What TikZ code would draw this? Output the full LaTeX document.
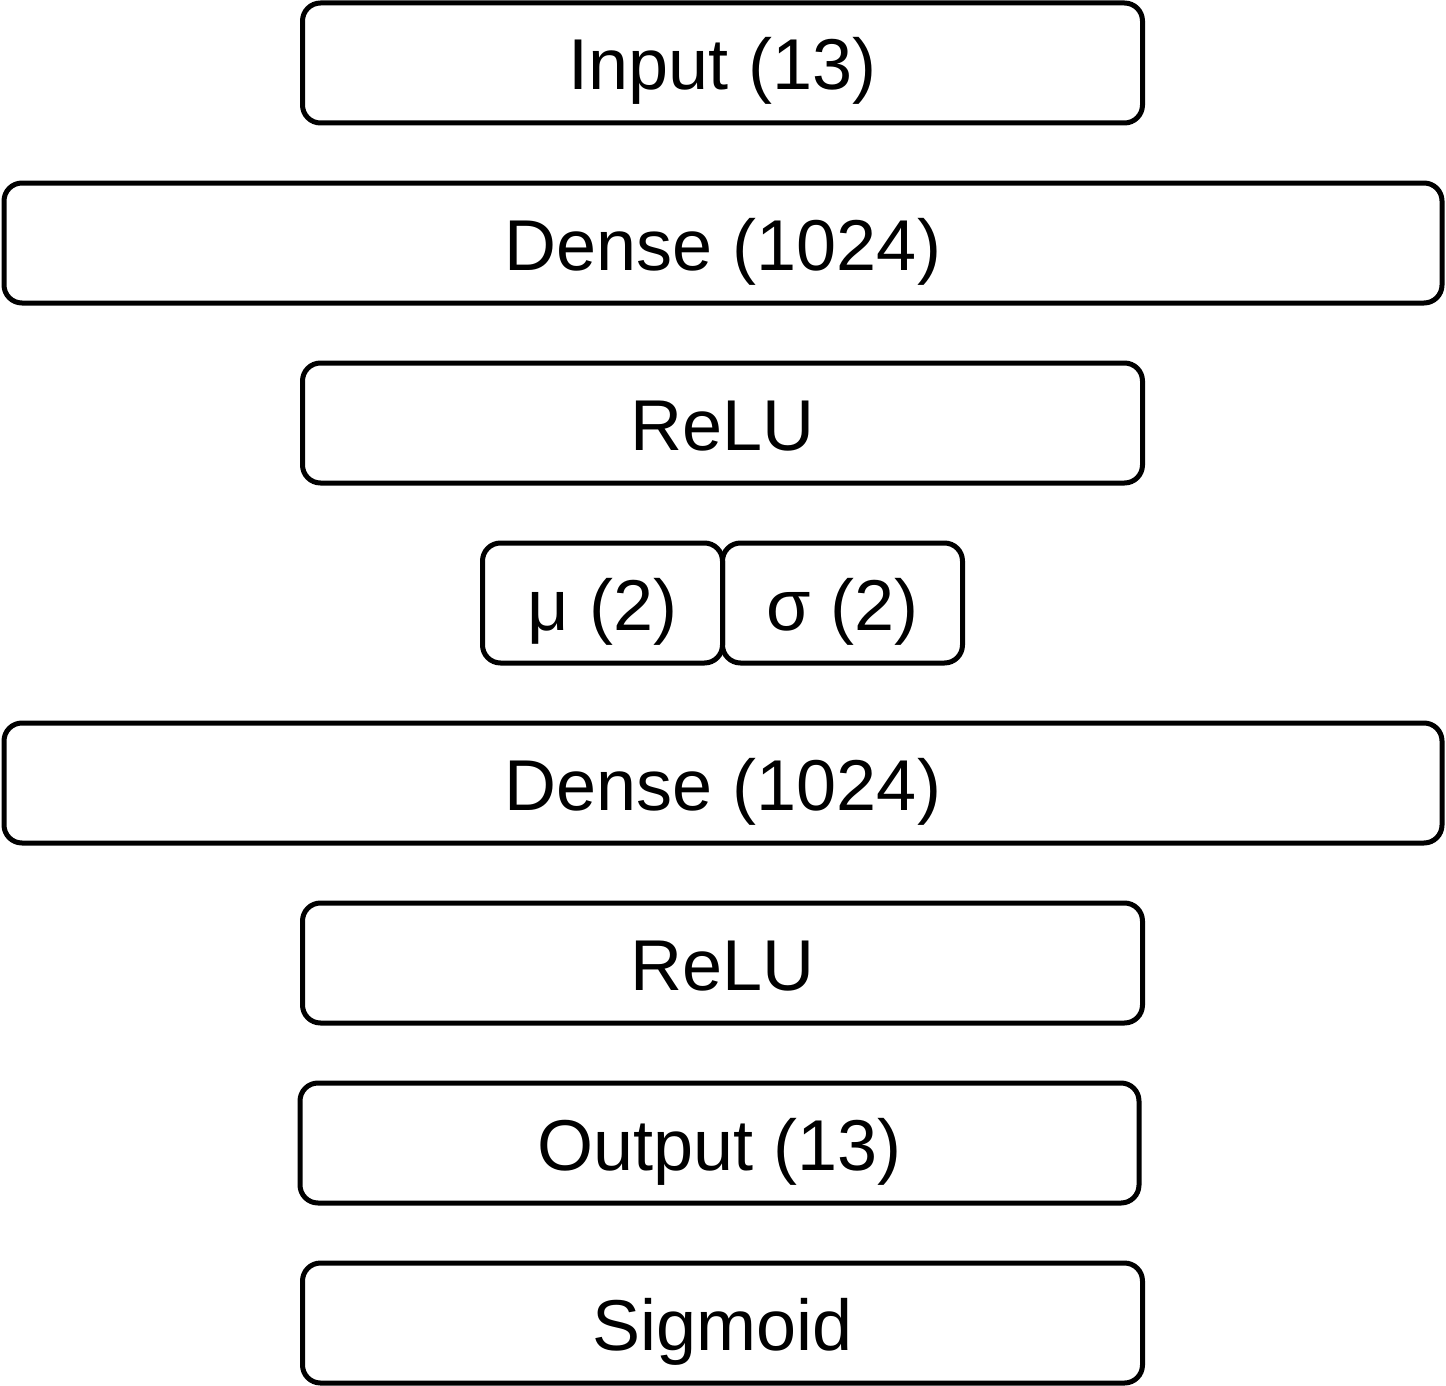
\documentclass[tikz,border=0pt]{standalone}
\usepackage{fontspec}
\setmainfont{Liberation Sans}
\usepackage{tikz}

\begin{document}
\begin{tikzpicture}[x=0.5pt,y=0.5pt,yscale=-1,xscale=1,
  layer/.style={draw, line width=2.5pt, rounded corners=9pt, minimum height=60pt, inner sep=0pt, text height=34pt, text depth=7pt, font=\fontsize{36}{40}\selectfont}]
\useasboundingbox (0,0) rectangle (1446,1386);

%Rounded Rect [id:inp] 
\node [layer, minimum width=420pt] (inp) at (722.5,63) {Input (13)};
%Rounded Rect [id:dense1] 
\node [layer, minimum width=719pt] (dense1) at (723,243) {Dense (1024)};
%Rounded Rect [id:relu1] 
\node [layer, minimum width=420pt] (relu1) at (722.5,423) {ReLU};
%Rounded Rect [id:mu] 
\node [layer, minimum width=120pt] (mu) at (602.5,603) {μ (2)};
%Rounded Rect [id:sigma] 
\node [layer, minimum width=120pt] (sigma) at (842.5,603) {σ (2)};
%Rounded Rect [id:dense2] 
\node [layer, minimum width=719pt] (dense2) at (723,783) {Dense (1024)};
%Rounded Rect [id:relu2] 
\node [layer, minimum width=420pt] (relu2) at (722.5,963) {ReLU};
%Rounded Rect [id:outp] 
\node [layer, minimum width=419.5pt] (outp) at (719.5,1143) {Output (13)};
%Rounded Rect [id:sigm] 
\node [layer, minimum width=420pt] (sigm) at (722.5,1323) {Sigmoid};

\end{tikzpicture}
\end{document}
